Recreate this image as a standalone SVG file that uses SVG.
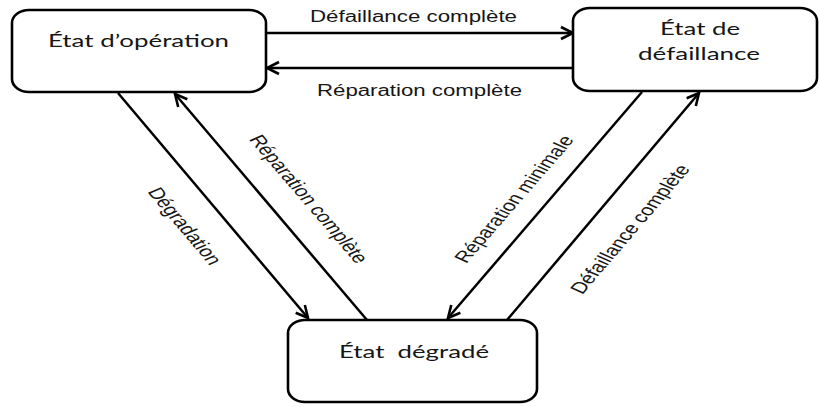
<svg xmlns="http://www.w3.org/2000/svg" width="819" height="407" viewBox="0 0 819 407">
  <style>
    .node rect { fill: #ffffff; stroke: #000000; stroke-width: 2.6; }
    .node text { font-family: Lato, "Open Sans", "Noto Sans", sans-serif; font-size: 17px; fill: #161616; }
    .edge { stroke: #000000; stroke-width: 2.5; fill: none; marker-end: url(#arrow); }
    .label { font-family: "Liberation Sans", Arial, sans-serif; font-size: 16px; fill: #161616; }
  </style>
  <defs>
    <marker id="arrow" markerUnits="userSpaceOnUse" markerWidth="16" markerHeight="16" refX="13" refY="6.5" orient="auto" overflow="visible">
      <path d="M1,0.5 L13,6.5 L1,12.5" fill="none" stroke="#000000" stroke-width="2.6" stroke-linejoin="miter"/>
    </marker>
  </defs>
  <rect width="819" height="407" fill="#ffffff"/>

  <!-- connectors -->
  <g id="connectors">
    <line class="edge" x1="266" y1="33" x2="573" y2="33"/>
    <line class="edge" x1="573" y1="68" x2="267" y2="68"/>
    <line class="edge" x1="118" y1="93" x2="308" y2="318"/>
    <line class="edge" x1="367" y1="320" x2="175" y2="94"/>
    <line class="edge" x1="642" y1="92" x2="448" y2="318"/>
    <line class="edge" x1="507" y1="320" x2="699" y2="93"/>

    <text class="label" x="310" y="21.5" textLength="207" lengthAdjust="spacingAndGlyphs">Défaillance complète</text>
    <text class="label" x="317" y="95.5" textLength="205" lengthAdjust="spacingAndGlyphs">Réparation complète</text>
    <text class="label" text-anchor="middle" transform="translate(185 226) scale(1.39 1) rotate(58.6)" y="5.5">Dégradation</text>
    <text class="label" text-anchor="middle" transform="translate(309 199) scale(1.39 1) rotate(58.2)" y="5.5">Réparation complète</text>
    <text class="label" text-anchor="middle" transform="translate(514 199) scale(1.39 1) rotate(-57.9)" y="5.5">Réparation minimale</text>
    <text class="label" text-anchor="middle" transform="translate(630 229) scale(1.39 1) rotate(-58.2)" y="5.5">Défaillance complète</text>
  </g>

  <!-- states -->
  <g id="etat-operation" class="node">
    <rect x="12" y="10" width="254" height="82" rx="17" ry="13"/>
    <text x="48" y="47" textLength="181" lengthAdjust="spacingAndGlyphs">État d’opération</text>
  </g>
  <g id="etat-defaillance" class="node">
    <rect x="573" y="8" width="244" height="83" rx="17" ry="13"/>
    <text x="660" y="35" textLength="80" lengthAdjust="spacingAndGlyphs">État de</text>
    <text x="638" y="60" textLength="122" lengthAdjust="spacingAndGlyphs">défaillance</text>
  </g>
  <g id="etat-degrade" class="node">
    <rect x="288" y="320" width="249" height="82" rx="17" ry="13"/>
    <text x="339" y="358" textLength="150" lengthAdjust="spacingAndGlyphs" style="white-space:pre">État  dégradé</text>
  </g>
</svg>
